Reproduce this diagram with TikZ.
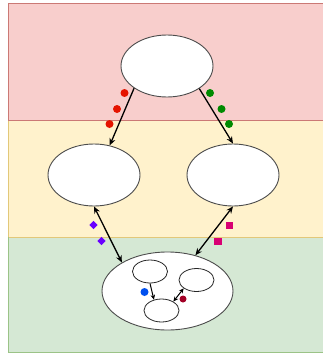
\documentclass[tikz,border=0pt]{standalone}
\usetikzlibrary{shapes.geometric,arrows.meta}
\definecolor{redfill}{HTML}{F8CECC}\definecolor{redline}{HTML}{B85450}
\definecolor{yelfill}{HTML}{FFF2CC}\definecolor{yelline}{HTML}{D6B656}
\definecolor{grnfill}{HTML}{D5E8D4}\definecolor{grnline}{HTML}{82B366}
\definecolor{mkred}{HTML}{E51400}\definecolor{mkgreen}{HTML}{008A00}
\definecolor{mkviolet}{HTML}{6A00FF}\definecolor{mkmag}{HTML}{D80073}
\definecolor{mkblue}{HTML}{0050EF}\definecolor{mkcrim}{HTML}{A20025}
\tikzset{
  band/.style={line width=1pt},
  bigell/.style={ellipse, draw=black!70, fill=white, line width=0.9pt, inner sep=0pt, minimum width=92pt, minimum height=62pt},
  smallell/.style={ellipse, draw=black!85, fill=white, line width=0.8pt, inner sep=0pt, minimum width=35pt, minimum height=23pt},
  conn/.style={draw=black, line width=1.3pt, -{Stealth[length=7pt,width=6pt]}},
  biconn/.style={draw=black, line width=1.3pt, {Stealth[length=7pt,width=6pt]}-{Stealth[length=7pt,width=6pt]}},
  smallconn/.style={draw=black, line width=1pt, -{Stealth[length=5pt,width=4.5pt]}},
  smallbiconn/.style={draw=black, line width=1pt, {Stealth[length=5pt,width=4.5pt]}-{Stealth[length=5pt,width=4.5pt]}},
  dotmk/.style={circle, fill=#1, inner sep=0pt, minimum size=8pt},
  diamk/.style={diamond, fill=#1, inner sep=0pt, minimum size=8.5pt},
  sqmk/.style={rectangle, fill=#1, inner sep=0pt, minimum size=7.5pt},
}
\begin{document}
\begin{tikzpicture}[x=1pt,y=-1pt]
\useasboundingbox (0,0) rectangle (322,353);
% bands
\fill[redfill] (8,4) rectangle (330,120.5);
\fill[yelfill] (8,120.5) rectangle (330,237);
\fill[grnfill] (8,237) rectangle (330,352);
\draw[band,redline!70!redfill] (330,4) -- (8,4) -- (8,120.5) -- (330,120.5);
\draw[band,yelline!70!yelfill] (8,120.5) -- (8,237) -- (330,237);
\draw[band,grnline!70!grnfill] (8,237) -- (8,352) -- (330,352);
% ellipses
\node[bigell] (top) at (167,66) {};
\node[bigell] (ml) at (94,175) {};
\node[bigell] (mr) at (233,175) {};
\node[bigell, minimum width=131pt, minimum height=78pt] (big) at (167.5,291) {};
\node[smallell] (s1) at (150,271.5) {};
\node[smallell] (s2) at (196.5,280) {};
\node[smallell] (s3) at (161.5,310.5) {};
% connectors
\draw[conn] (top.214) -- (ml.62);
\draw[conn] (top.325) -- (mr.90);
\draw[biconn] (ml.270) -- (big.148);
\draw[biconn] (mr.270) -- (big.52);
\draw[smallconn] (s1.270) -- (s3.125);
\draw[smallbiconn] (s3.37) -- (s2.213);
% markers
\node[dotmk=mkred] (r1) at (124.5,93) {};
\node[dotmk=mkred] (r2) at (117,109) {};
\node[dotmk=mkred] (r3) at (109.5,124) {};
\node[dotmk=mkgreen] (g1) at (210,93) {};
\node[dotmk=mkgreen] (g2) at (221.5,109) {};
\node[dotmk=mkgreen] (g3) at (229,124) {};
\node[diamk=mkviolet] (v1) at (93.5,225) {};
\node[diamk=mkviolet] (v2) at (101.5,241) {};
\node[sqmk=mkmag] (m1) at (229.5,225.5) {};
\node[sqmk=mkmag] (m2) at (218,241.5) {};
\node[dotmk=mkblue] (b1) at (144.5,292) {};
\node[dotmk=mkcrim, minimum size=7pt] (c1) at (183,299) {};
\end{tikzpicture}
\end{document}
